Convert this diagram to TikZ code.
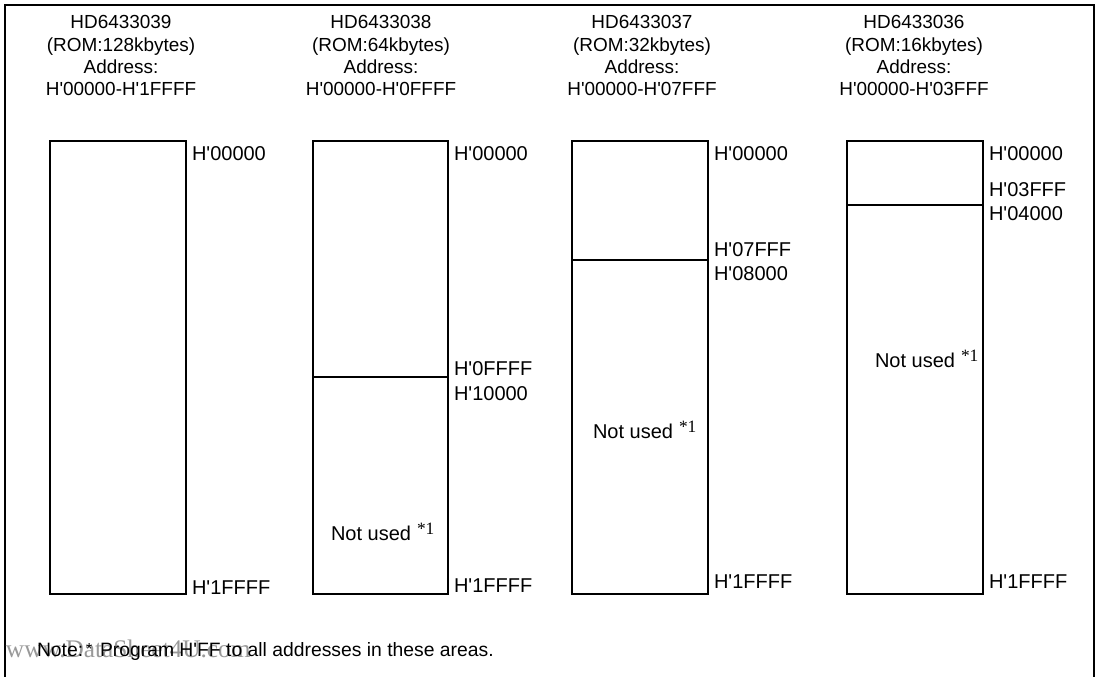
\documentclass[tikz,border=0pt]{standalone}
\usepackage{fontspec}
\setmainfont{Liberation Sans}
\newfontfamily\serifnote{Liberation Serif}
\newcommand{\ap}{\textquotesingle}
\newcommand{\noteref}{\hspace{0.3em}\raisebox{0.3em}{\serifnote\fontsize{13}{14}\selectfont *1}}
\begin{document}
\begin{tikzpicture}[x=0.75pt,y=-0.75pt,
  every node/.style={inner sep=0pt,outer sep=0pt,font=\fontsize{14.2}{17}\selectfont},
  addr/.style={anchor=base west,font=\fontsize{15}{18}\selectfont},
  head/.style={anchor=base,align=center},
  mem/.style={draw=black,line width=0.9pt},
  frame/.style={draw=black,line width=1pt}]
\useasboundingbox (0,0) rectangle (1098,677);
\draw[frame] (5,677) -- (5,5) -- (1094,5) -- (1094,677);

% column 1
\node[head] (h1a) at (121,29) {HD6433039};
\node[head] (h1b) at (121,52) {(ROM:128kbytes)};
\node[head] (h1c) at (121,74) {Address:};
\node[head] (h1d) at (121,96) {H\ap 00000-H\ap 1FFFF};
\draw[mem] (50,141) rectangle (186,594);
\node[addr] (a1a) at (192,161) {H\ap 00000};
\node[addr] (a1b) at (192,594) {H\ap 1FFFF};

% column 2
\node[head] (h2a) at (381,29) {HD6433038};
\node[head] (h2b) at (381,52) {(ROM:64kbytes)};
\node[head] (h2c) at (381,74) {Address:};
\node[head] (h2d) at (381,96) {H\ap 00000-H\ap 0FFFF};
\draw[mem] (313,141) rectangle (448,594);
\draw[mem] (313,377) -- (448,377);
\node[addr] (a2a) at (454,161) {H\ap 00000};
\node[addr] (a2b) at (454,375) {H\ap 0FFFF};
\node[addr] (a2c) at (454,400) {H\ap 10000};
\node[addr] (a2d) at (454,592) {H\ap 1FFFF};
\node[addr] (n2) at (331,540) {Not used\noteref};

% column 3
\node[head] (h3a) at (642,29) {HD6433037};
\node[head] (h3b) at (642,52) {(ROM:32kbytes)};
\node[head] (h3c) at (642,74) {Address:};
\node[head] (h3d) at (642,96) {H\ap 00000-H\ap 07FFF};
\draw[mem] (572,141) rectangle (708,594);
\draw[mem] (572,260) -- (708,260);
\node[addr] (a3a) at (714,161) {H\ap 00000};
\node[addr] (a3b) at (714,256) {H\ap 07FFF};
\node[addr] (a3c) at (714,280) {H\ap 08000};
\node[addr] (a3d) at (714,588) {H\ap 1FFFF};
\node[addr] (n3) at (593,438) {Not used\noteref};

% column 4
\node[head] (h4a) at (914,29) {HD6433036};
\node[head] (h4b) at (914,52) {(ROM:16kbytes)};
\node[head] (h4c) at (914,74) {Address:};
\node[head] (h4d) at (914,96) {H\ap 00000-H\ap 03FFF};
\draw[mem] (847,141) rectangle (983,594);
\draw[mem] (847,205) -- (983,205);
\node[addr] (a4a) at (989,161) {H\ap 00000};
\node[addr] (a4b) at (989,197) {H\ap 03FFF};
\node[addr] (a4c) at (989,221) {H\ap 04000};
\node[addr] (a4d) at (989,588) {H\ap 1FFFF};
\node[addr] (n4) at (875,367) {Not used\noteref};

% note
\node[addr,text=black!40,font=\serifnote\fontsize{19}{22}\selectfont] (wm) at (6,657) {www.DataSheet4U.com};
\node[addr,font=\fontsize{14.5}{17}\selectfont] (nt1) at (37,656) {Note:};
\node[addr,font=\fontsize{12}{14}\selectfont] (nt2) at (86,654) {*};
\node[addr,font=\fontsize{14.5}{17}\selectfont] (nt3) at (100,656) {Program H\ap FF to all addresses in these areas.};
\end{tikzpicture}
\end{document}
